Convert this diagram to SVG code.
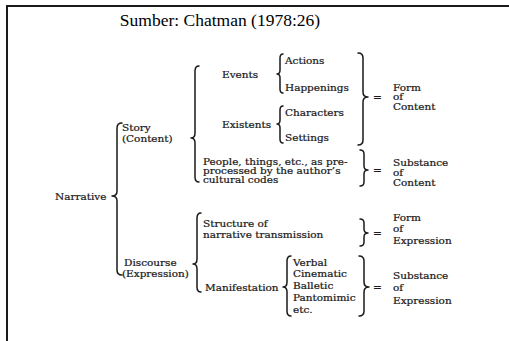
<svg xmlns="http://www.w3.org/2000/svg" width="509" height="341" viewBox="0 0 509 341">
<style>
.t{font-family:"DejaVu Serif","Liberation Serif",serif;font-size:10.5px;fill:#1a1a1a;stroke:#1a1a1a;stroke-width:0.25}
.title{font-family:"Liberation Serif","Times New Roman",serif;font-size:17.5px;fill:#000}
.b{fill:none;stroke:#1a1a1a;stroke-width:1.5;stroke-linecap:round;stroke-linejoin:round}
.frame{stroke:#1a1a1a;stroke-width:2;fill:none}
</style>
<rect width="509" height="341" fill="#fff"/>
<path class="frame" d="M7,341 V6 H509"/>
<g id="title"><text class="title" x="220" y="26" text-anchor="middle">Sumber: Chatman (1978:26)</text></g>
<g id="narrative"><text class="t" transform="translate(55,200) scale(1,0.9)">Narrative</text></g>
<g id="story"><text class="t" transform="translate(122,131) scale(1,0.9)">Story</text><text class="t" transform="translate(122,142) scale(1,0.9)">(Content)</text></g>
<g id="discourse"><text class="t" transform="translate(124,266) scale(1,0.9)">Discourse</text><text class="t" transform="translate(122,277) scale(1,0.9)">(Expression)</text></g>
<g id="events"><text class="t" transform="translate(222,78) scale(1,0.9)">Events</text></g>
<g id="existents"><text class="t" transform="translate(222,128) scale(1,0.9)">Existents</text></g>
<g id="actions"><text class="t" transform="translate(285,64) scale(1,0.9)">Actions</text></g>
<g id="happenings"><text class="t" transform="translate(285,91) scale(1,0.9)">Happenings</text></g>
<g id="characters"><text class="t" transform="translate(285,116) scale(1,0.9)">Characters</text></g>
<g id="settings"><text class="t" transform="translate(285,141) scale(1,0.9)">Settings</text></g>
<g id="people"><text class="t" transform="translate(203,165) scale(1,0.9)">People, things, etc., as pre-</text><text class="t" transform="translate(203,174) scale(1,0.9)">processed by the author’s</text><text class="t" transform="translate(203,183) scale(1,0.9)">cultural codes</text></g>
<g id="form-content"><text class="t" transform="translate(393,91) scale(1,0.9)">Form</text><text class="t" transform="translate(393,100) scale(1,0.9)">of</text><text class="t" transform="translate(393,109.5) scale(1,0.9)">Content</text></g>
<g id="substance-content"><text class="t" transform="translate(393,166) scale(1,0.9)">Substance</text><text class="t" transform="translate(393,176) scale(1,0.9)">of</text><text class="t" transform="translate(393,186) scale(1,0.9)">Content</text></g>
<g id="structure"><text class="t" transform="translate(203,227) scale(1,0.9)">Structure of</text><text class="t" transform="translate(203,238) scale(1,0.9)">narrative transmission</text></g>
<g id="form-expression"><text class="t" transform="translate(393,221) scale(1,0.9)">Form</text><text class="t" transform="translate(393,232) scale(1,0.9)">of</text><text class="t" transform="translate(393,244) scale(1,0.9)">Expression</text></g>
<g id="manifestation"><text class="t" transform="translate(205,291) scale(1,0.9)">Manifestation</text></g>
<g id="media"><text class="t" transform="translate(293,266) scale(1,0.9)">Verbal</text><text class="t" transform="translate(293,277) scale(1,0.9)">Cinematic</text><text class="t" transform="translate(293,289) scale(1,0.9)">Balletic</text><text class="t" transform="translate(293,301) scale(1,0.9)">Pantomimic</text><text class="t" transform="translate(293,313) scale(1,0.9)">etc.</text></g>
<g id="substance-expression"><text class="t" transform="translate(393,279) scale(1,0.9)">Substance</text><text class="t" transform="translate(393,291) scale(1,0.9)">of</text><text class="t" transform="translate(393,304) scale(1,0.9)">Expression</text></g>
<g id="connectors">
<path class="b" d="M122,123 Q117,123 117,128 L117,191 Q117,196 112,196 Q117,196 117,201 L117,270 Q117,275 122,275"/>
<path class="b" d="M199,66 Q195,66 195,71 L195,133 Q195,138 191,138 Q195,138 195,143 L195,177 Q195,182 199,182"/>
<path class="b" d="M201,213 Q197,213 197,218 L197,259 Q197,264 193,264 Q197,264 197,269 L197,287 Q197,292 201,292"/>
<path class="b" d="M283,54 Q280,54 280,58 L280,70 Q280,74 277,74 Q280,74 280,78 L280,89 Q280,93 283,93"/>
<path class="b" d="M283,106 Q280,106 280,110 L280,120 Q280,124 277,124 Q280,124 280,128 L280,139 Q280,143 283,143"/>
<path class="b" d="M291,256 Q287,256 287,261 L287,282 Q287,287 283,287 Q287,287 287,292 L287,311 Q287,316 291,316"/>
<path class="b" d="M358,53 Q363,53 363,58 L363,92 Q363,97 368,97 Q363,97 363,102 L363,140 Q363,145 358,145"/>
<path class="b" d="M360,150 Q364,150 364,154 L364,166 Q364,170 368,170 Q364,170 364,174 L364,182 Q364,186 360,186"/>
<path class="b" d="M360,219 Q364,219 364,223 L364,229 Q364,233 368,233 Q364,233 364,237 L364,242 Q364,246 360,246"/>
<path class="b" d="M359,256 Q364,256 364,261 L364,282 Q364,287 369,287 Q364,287 364,292 L364,311 Q364,316 359,316"/>
<text class="t" x="373" y="101">=</text>
<text class="t" x="373" y="174">=</text>
<text class="t" x="373" y="237">=</text>
<text class="t" x="373" y="291">=</text>
</g>
</svg>
